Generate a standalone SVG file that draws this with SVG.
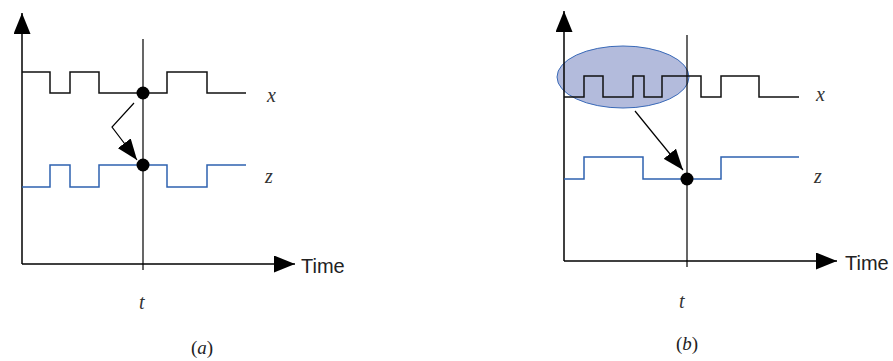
<svg xmlns="http://www.w3.org/2000/svg" width="893" height="361" viewBox="0 0 893 361">
<style>
.ax{stroke:#000;stroke-width:1.5;fill:none}
.ln{stroke:#000;stroke-width:1.2;fill:none}
.sx{stroke:#111;stroke-width:1.5;fill:none}
.sz{stroke:#2e62b0;stroke-width:1.5;fill:none}
.lab{font-family:"Liberation Serif",serif;font-style:italic;font-size:20px;fill:#333}
.cap{font-family:"Liberation Serif",serif;font-size:19px;fill:#222}
.time{font-family:"Liberation Sans",Arial,sans-serif;font-size:20px;fill:#222}
</style>
<defs>
<marker id="axh" markerUnits="userSpaceOnUse" markerWidth="22" markerHeight="17" refX="21" refY="8.5" orient="auto">
<path d="M0,0 L21,8.5 L0,17 z" fill="#000"/>
</marker>
<marker id="arh" markerUnits="userSpaceOnUse" markerWidth="22" markerHeight="16" refX="21" refY="8" orient="auto">
<path d="M0,0 L21,8 L0,16 z" fill="#000"/>
</marker>
</defs>
<g id="panel-a">
<g id="a-axes">
<line class="ax" x1="22" y1="264" x2="22" y2="13" marker-end="url(#axh)"/>
<line class="ax" x1="22" y1="264" x2="295" y2="264" marker-end="url(#axh)"/>
<text class="time" x="301" y="273">Time</text>
</g>
<line id="a-t" class="ln" x1="143" y1="39" x2="143" y2="270"/>
<g id="a-x">
<path class="sx" d="M22,72 H50 V93 H70 V72 H99 V93 H167 V72 H207 V93 H246"/>
<text class="lab" x="267" y="102">x</text>
</g>
<g id="a-z">
<path class="sz" d="M22,187 H50 V165 H70 V187 H99 V165 H167 V187 H207 V165 H246"/>
<text class="lab" x="265" y="183">z</text>
</g>
<circle id="a-dot1" cx="143" cy="93" r="6.5" fill="#000"/>
<circle id="a-dot2" cx="143" cy="165" r="6.5" fill="#000"/>
<g id="a-conn">
<polyline class="ln" points="134,103 112,127 137,160" marker-end="url(#arh)"/>
</g>
<text class="lab" x="139" y="309">t</text>
<text class="cap" x="191" y="354">(<tspan font-style="italic">a</tspan>)</text>
</g>
<g id="panel-b">
<ellipse id="b-ellipse" cx="623" cy="77" rx="66" ry="31" fill="#b3bbdc" stroke="#3a6ab8" stroke-width="1"/>
<g id="b-axes">
<line class="ax" x1="564" y1="261" x2="564" y2="11" marker-end="url(#axh)"/>
<line class="ax" x1="564" y1="261" x2="837" y2="261" marker-end="url(#axh)"/>
<text class="time" x="845" y="270">Time</text>
</g>
<line id="b-t" class="ln" x1="687" y1="35" x2="687" y2="267"/>
<g id="b-x">
<path class="sx" d="M564,97 H584 V76 H603 V97 H633 V76 H644 V97 H662 V76 H701 V97 H721 V76 H759 V97 H799"/>
<text class="lab" x="816" y="101">x</text>
</g>
<g id="b-z">
<path class="sz" d="M564,179 H584 V157 H643 V179 H721 V157 H799"/>
<text class="lab" x="814" y="183">z</text>
</g>
<circle id="b-dot" cx="687" cy="179" r="6.5" fill="#000"/>
<g id="b-conn">
<line class="ln" x1="635" y1="111" x2="683" y2="170" marker-end="url(#arh)"/>
</g>
<text class="lab" x="679" y="308">t</text>
<text class="cap" x="676" y="350">(<tspan font-style="italic">b</tspan>)</text>
</g>
</svg>
